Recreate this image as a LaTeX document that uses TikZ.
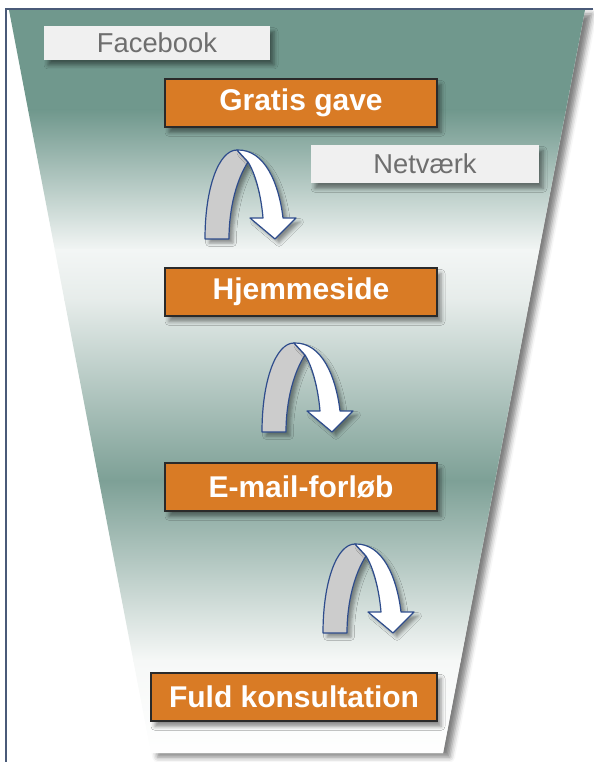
\documentclass[tikz,border=0pt]{standalone}
\usepackage{fontspec}
\setmainfont{Liberation Sans}
\usetikzlibrary{shadows,shadows.blur}
\definecolor{frameblue}{HTML}{4A5A78}
\definecolor{teal1}{RGB}{112,152,141}
\definecolor{teal2}{RGB}{125,160,150}
\definecolor{pale1}{HTML}{F3F6F5}
\definecolor{pale2}{HTML}{E6ECEA}
\definecolor{pale3}{HTML}{F6F8F7}
\definecolor{boxorange}{HTML}{D97B25}
\definecolor{boxline}{HTML}{2A2A2A}
\definecolor{labelgray}{HTML}{F0F0F0}
\definecolor{labeltext}{HTML}{6E6E6E}
\definecolor{arrowline}{HTML}{2E4C8C}
\definecolor{arrowgray}{HTML}{CCCCCC}
\tikzset{
  myshadow/.style={blur shadow={shadow xshift=3pt, shadow yshift=-4pt, shadow blur radius=3pt, shadow opacity=45}},
  stepbox/.style={draw=boxline, line width=0.8pt, fill=boxorange, text=white,
    font=\fontsize{22.5}{26}\selectfont\bfseries, minimum height=36pt, inner sep=0pt, myshadow},
  chanbox/.style={fill=labelgray, text=labeltext, font=\fontsize{20.5}{24}\selectfont,
    inner sep=0pt, myshadow},
  arrowpart/.style={draw=arrowline, line width=0.9pt, line join=round,
    blur shadow={shadow xshift=3pt, shadow yshift=-3pt, shadow blur radius=2.5pt, shadow opacity=40}},
  uturn/.pic={
    \path[arrowpart, fill=arrowgray] (0,0) .. controls (0,-52) and (14,-89) .. (32,-89)
      -- (43,-77) .. controls (32,-60) and (24,-32) .. (24,0) -- cycle;
    \path[arrowpart, fill=white] (32,-89) .. controls (60,-90) and (74,-55) .. (78,-21)
      -- (91,-21) -- (70,0) -- (45,-21) -- (58,-21)
      .. controls (56,-45) and (50,-66) .. (43,-77) -- cycle;
  }
}
\begin{document}
\begin{tikzpicture}[x=0.75pt, y=-0.75pt]
\useasboundingbox (0,0) rectangle (593,762);
% funnel with shadow
\path[fill=white, blur shadow={shadow xshift=5pt, shadow yshift=-3pt, shadow blur radius=4pt, shadow opacity=50}]
  (9,10) -- (585,10) -- (443,753) -- (151,753) -- cycle;
\begin{scope}
  \clip (9,10) -- (585,10) -- (443,753) -- (151,753) -- cycle;
  \fill[teal1] (0,0) rectangle (593,111);
  \shade[top color=teal1, bottom color=pale1] (0,110) rectangle (593,251);
  \shade[top color=pale1, bottom color=pale2] (0,250) rectangle (593,301);
  \shade[top color=pale2, bottom color=teal2] (0,300) rectangle (593,481);
  \shade[top color=teal2, bottom color=pale3] (0,480) rectangle (593,661);
  \shade[top color=pale3, bottom color=white] (0,660) rectangle (593,760);
\end{scope}
% frame
\draw[frameblue, line width=1.5pt] (6,762) -- (6,9) -- (593,9);
% channel labels
\node[chanbox, minimum width=169.5pt, minimum height=25pt] (fb) at (157,43) {Facebook};
\node[chanbox, minimum width=171pt, minimum height=28.5pt] (nv) at (425,164) {Netværk};
% steps
\node[stepbox, minimum width=204pt] (gave) at (301,103) {Gratis gave};
\node[stepbox, minimum width=204pt] (hjem) at (301,292) {Hjemmeside};
\node[stepbox, minimum width=204pt] (mail) at (301,487) {E-mail-forløb};
\node[stepbox, minimum width=214.5pt] (fuld) at (294,697) {Fuld konsultation};
% u-turn arrows
\pic at (205,239) {uturn};
\pic at (262,432) {uturn};
\pic at (323,633) {uturn};
\end{tikzpicture}
\end{document}
